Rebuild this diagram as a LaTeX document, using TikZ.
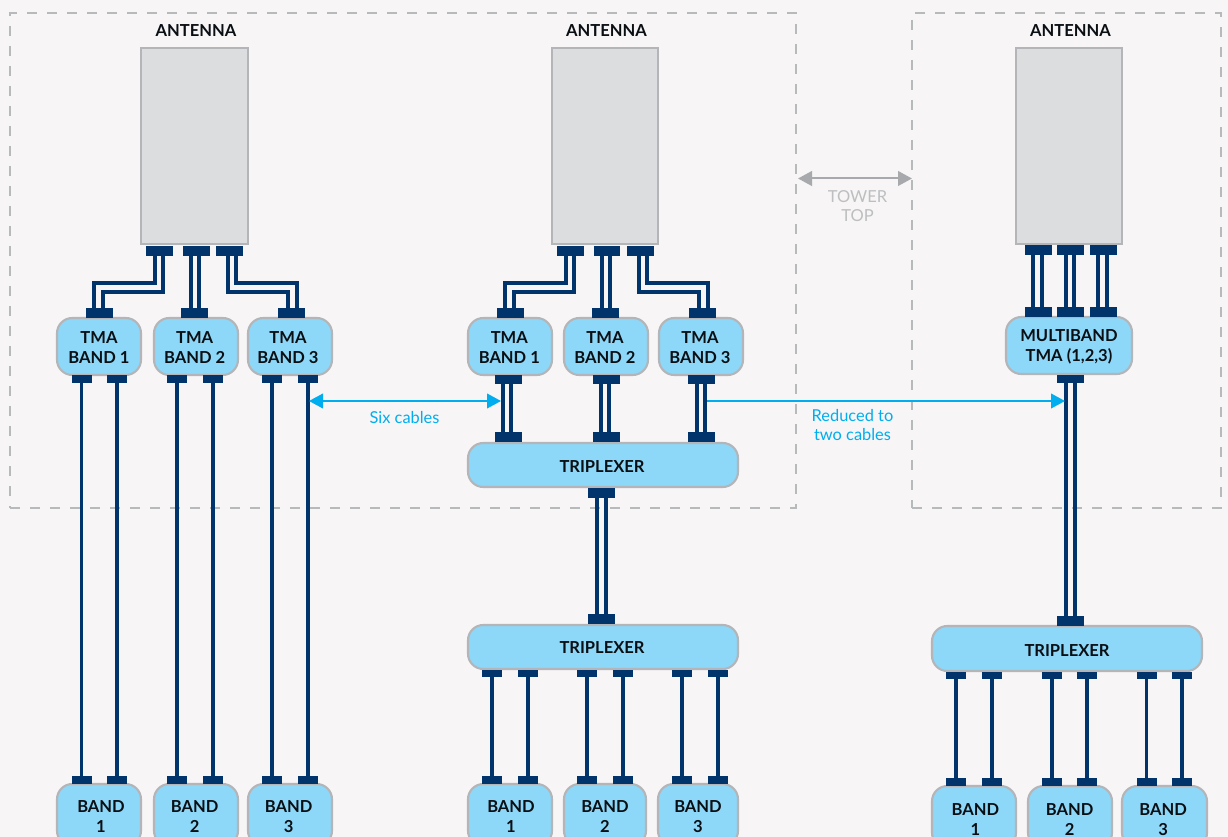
\documentclass[tikz,border=0pt]{standalone}
\usepackage{fontspec}
\setmainfont{Lato}
\usetikzlibrary{arrows.meta}
\definecolor{bgc}{HTML}{F7F5F6}
\definecolor{boxfill}{HTML}{8DD8F8}
\definecolor{boxline}{HTML}{B3B5B8}
\definecolor{navy}{HTML}{00346A}
\definecolor{cyanc}{HTML}{00AEEF}
\definecolor{arrowgray}{HTML}{A7A9AC}
\definecolor{textgray}{HTML}{BCBEC0}
\definecolor{antfill}{HTML}{DCDDDE}
\definecolor{dashc}{HTML}{B7BABA}
\definecolor{inkc}{HTML}{0A0F14}
\tikzset{
  x=0.75pt,y=-0.75pt,
  rectnode/.style={rectangle,inner sep=0pt,outer sep=0pt},
  zonebox/.style={rectnode,draw=dashc,line width=1.5pt,dash pattern=on 7.5pt off 7.5pt},
  antennabox/.style={rectnode,draw=boxline,line width=1.9pt,fill=antfill},
  bluebox/.style={rectnode,draw=boxline,line width=1.6pt,fill=boxfill,rounded corners=11.5pt,align=center,
     text=inkc,font=\fontsize{12.4}{15}\selectfont\bfseries},
  padbox/.style={rectnode,fill=navy},
  cable/.style={draw=navy,line width=2.5pt,line join=miter},
  headline/.style={text=inkc,font=\fontsize{12.4}{15}\selectfont\bfseries,inner sep=0pt},
  bluetext/.style={text=cyanc,align=center,font=\fontsize{12.3}{14.3}\selectfont,inner sep=0pt},
  graytext/.style={text=textgray,align=center,font=\fontsize{12.4}{14.3}\selectfont,inner sep=0pt},
  cyanarrow/.style={draw=cyanc,line width=1.4pt},
  grayarrow/.style={draw=arrowgray,line width=1.5pt,{Triangle[length=10.5pt,width=11pt]}-{Triangle[length=10.5pt,width=11pt]}},
}
% \bx{name}{x1}{y1}{x2}{y2}{style}{text}
\newcommand{\bx}[7]{\node[#6,minimum width={((#4)-(#2))*0.75pt},minimum height={((#5)-(#3))*0.75pt}] (#1) at ({((#2)+(#4))/2},{((#3)+(#5))/2}) {#7};}
\newcommand{\pad}[5]{\bx{#1}{#2}{#3}{#4}{#5}{padbox}{}}
% box text: first line strut moves the text down a little; #1 nudges it sideways
\newcommand{\twol}[3]{\rule{0pt}{11pt}\hspace*{#1pt}#2\\\hspace*{#1pt}#3}
\newcommand{\twolb}[3]{\rule{0pt}{12.5pt}\hspace*{#1pt}#2\\\hspace*{#1pt}#3}
\newcommand{\onel}[2]{\rule{0pt}{11pt}\hspace*{#1pt}#2}
\newcommand{\onelb}[2]{\rule{0pt}{12.5pt}\hspace*{#1pt}#2}
% \vcab{from}{to}{x}
\newcommand{\vcab}[3]{\coordinate (cabx) at (#3,0); \draw[cable] (#1.south -| cabx) -- (#2.north -| cabx);}
% \rcab{from}{to}{x1}{ymid}{x2}
\newcommand{\rcab}[5]{\coordinate (cabp) at (#3,#4); \coordinate (cabq) at (#5,#4); \draw[cable] (#1.south -| cabp) -- (cabp) -- (cabq) -- (#2.north -| cabq);}
\begin{document}
\begin{tikzpicture}
\clip (0,0) rectangle (1228,837);
\fill[bgc] (0,0) rectangle (1228,837);
% zones
\bx{zoneA}{10}{13}{796}{508}{zonebox}{}
\bx{zoneB}{912}{13}{1221}{508}{zonebox}{}
% antennas
\bx{antA}{141}{48}{248}{244}{antennabox}{}
\bx{antB}{552}{48}{658}{244}{antennabox}{}
\bx{antC}{1016}{48}{1122}{244}{antennabox}{}
\node[headline] (labA) at (196,31) {ANTENNA};
\node[headline] (labB) at (606.5,31) {ANTENNA};
\node[headline] (labC) at (1070.5,31) {ANTENNA};
% ---- left column
\bx{tA1}{57}{318}{141}{375}{bluebox}{\twol{0}{TMA}{BAND 1}}
\bx{tA2}{154}{318}{238}{375}{bluebox}{\twol{-2}{TMA}{BAND 2}}
\bx{tA3}{248}{318}{332}{375}{bluebox}{\twol{-3}{TMA}{BAND 3}}
\bx{bA1}{57}{784}{141}{846}{bluebox}{\twol{3}{BAND}{1}}
\bx{bA2}{154}{784}{238}{846}{bluebox}{\twol{-2}{BAND}{2}}
\bx{bA3}{248}{784}{332}{846}{bluebox}{\twol{-2}{BAND}{3}}
\pad{aA1}{146}{246}{173}{256}
\pad{aA2}{183}{246}{210}{256}
\pad{aA3}{216}{246}{243}{256}
\pad{iA1}{86}{308}{113}{318}
\pad{iA2}{181}{308}{208}{318}
\pad{iA3}{278}{308}{305}{318}
\rcab{aA1}{iA1}{155}{283}{94}
\rcab{aA1}{iA1}{163}{292}{103}
\vcab{aA2}{iA2}{191}
\vcab{aA2}{iA2}{199}
\rcab{aA3}{iA3}{228}{292}{288}
\rcab{aA3}{iA3}{236}{283}{297}
\foreach \n/\x in {1/81.5,2/117,3/177,4/213,5/272,6/308}{
  \pad{oA\n}{\x-10}{375}{\x+10}{383}
  \pad{fA\n}{\x-10}{776}{\x+10}{784}
  \vcab{oA\n}{fA\n}{\x}
}
% ---- middle column
\bx{tB1}{468}{318}{552}{375}{bluebox}{\twol{-1}{TMA}{BAND 1}}
\bx{tB2}{564}{318}{648}{375}{bluebox}{\twol{-1.5}{TMA}{BAND 2}}
\bx{tB3}{659}{318}{743}{375}{bluebox}{\twol{-1.5}{TMA}{BAND 3}}
\bx{triB}{468}{443}{738}{487}{bluebox}{\onel{-1.5}{TRIPLEXER}}
\bx{triBb}{468}{625}{738}{669}{bluebox}{\rule{0pt}{10pt}\hspace*{-1.5pt}TRIPLEXER}
\bx{bB1}{468}{784}{552}{846}{bluebox}{\twol{1.5}{BAND}{1}}
\bx{bB2}{564}{784}{646}{846}{bluebox}{\twol{0}{BAND}{2}}
\bx{bB3}{658}{784}{738}{846}{bluebox}{\twol{0}{BAND}{3}}
\pad{aB1}{557}{246}{584}{256}
\pad{aB2}{594}{246}{620}{256}
\pad{aB3}{627}{246}{654}{256}
\pad{iB1}{497}{308}{524}{318}
\pad{iB2}{592}{308}{619}{318}
\pad{iB3}{689}{308}{716}{318}
\rcab{aB1}{iB1}{566}{283}{505}
\rcab{aB1}{iB1}{574}{292}{514}
\vcab{aB2}{iB2}{602}
\vcab{aB2}{iB2}{610}
\rcab{aB3}{iB3}{639}{292}{699}
\rcab{aB3}{iB3}{647}{283}{708}
\pad{oB1}{495}{375}{522}{384}
\pad{oB2}{593}{375}{620}{384}
\pad{oB3}{688}{375}{715}{384}
\pad{jB1}{495}{432}{522}{442}
\pad{jB2}{593}{432}{620}{442}
\pad{jB3}{688}{432}{715}{442}
\vcab{oB1}{jB1}{503}\vcab{oB1}{jB1}{511}
\vcab{oB2}{jB2}{601}\vcab{oB2}{jB2}{609}
\vcab{oB3}{jB3}{697}\vcab{oB3}{jB3}{705}
\pad{kB}{588}{488}{615}{498}
\pad{lB}{588}{614}{615}{624}
\vcab{kB}{lB}{597}\vcab{kB}{lB}{606}
\foreach \n/\x in {1/492,2/528,3/587,4/623,5/682,6/718}{
  \pad{oC\n}{\x-10}{670}{\x+10}{677}
  \pad{fB\n}{\x-10}{776}{\x+10}{784}
  \vcab{oC\n}{fB\n}{\x}
}
% ---- right column
\bx{tC}{1006}{317}{1132}{374}{bluebox}{\twol{0}{MULTIBAND}{TMA (1,2,3)}}
\bx{triC}{932}{626}{1202}{671}{bluebox}{\onelb{0}{TRIPLEXER}}
\bx{bC1}{932}{786}{1016}{848}{bluebox}{\twolb{2}{BAND}{1}}
\bx{bC2}{1028}{786}{1112}{848}{bluebox}{\twolb{-0.5}{BAND}{2}}
\bx{bC3}{1122}{786}{1207}{848}{bluebox}{\twolb{-2}{BAND}{3}}
\pad{aC1}{1025}{245}{1052}{255}
\pad{aC2}{1057}{245}{1084}{255}
\pad{aC3}{1090}{245}{1117}{255}
\pad{iC1}{1025}{307}{1052}{317}
\pad{iC2}{1057}{307}{1084}{317}
\pad{iC3}{1090}{307}{1117}{317}
\vcab{aC1}{iC1}{1033}\vcab{aC1}{iC1}{1042}
\vcab{aC2}{iC2}{1066}\vcab{aC2}{iC2}{1074}
\vcab{aC3}{iC3}{1098}\vcab{aC3}{iC3}{1107}
\pad{oD}{1057}{375}{1084}{383}
\pad{kC}{1057}{616}{1084}{626}
\vcab{oD}{kC}{1066}\vcab{oD}{kC}{1075}
\foreach \n/\x in {1/956,2/992,3/1052,4/1087,5/1146.5,6/1182}{
  \pad{oE\n}{\x-10}{672}{\x+10}{679}
  \pad{fC\n}{\x-10}{778}{\x+10}{786}
  \vcab{oE\n}{fC\n}{\x}
}
% ---- annotations
\coordinate (sixL) at (309,401);
\coordinate (sixR) at (501,401);
\coordinate (redL) at (707,401);
\coordinate (redR) at (1065,401);
\coordinate (towL) at (798,178.5);
\coordinate (towR) at (912,178.5);
\draw[cyanarrow,{Triangle[length=10.5pt,width=11pt]}-{Triangle[length=10.5pt,width=11pt]}] (sixL) -- (sixR);
\draw[cyanarrow,-{Triangle[length=10.5pt,width=11pt]}] (redL) -- (redR);
\draw[grayarrow] (towL) -- (towR);
\node[bluetext] (sixT) at (404.5,417.5) {Six cables};
\node[bluetext] (redT) at (852.5,425) {Reduced to\\two cables};
\node[graytext] (towT) at (857.5,206) {TOWER\\TOP};
\end{tikzpicture}
\end{document}
